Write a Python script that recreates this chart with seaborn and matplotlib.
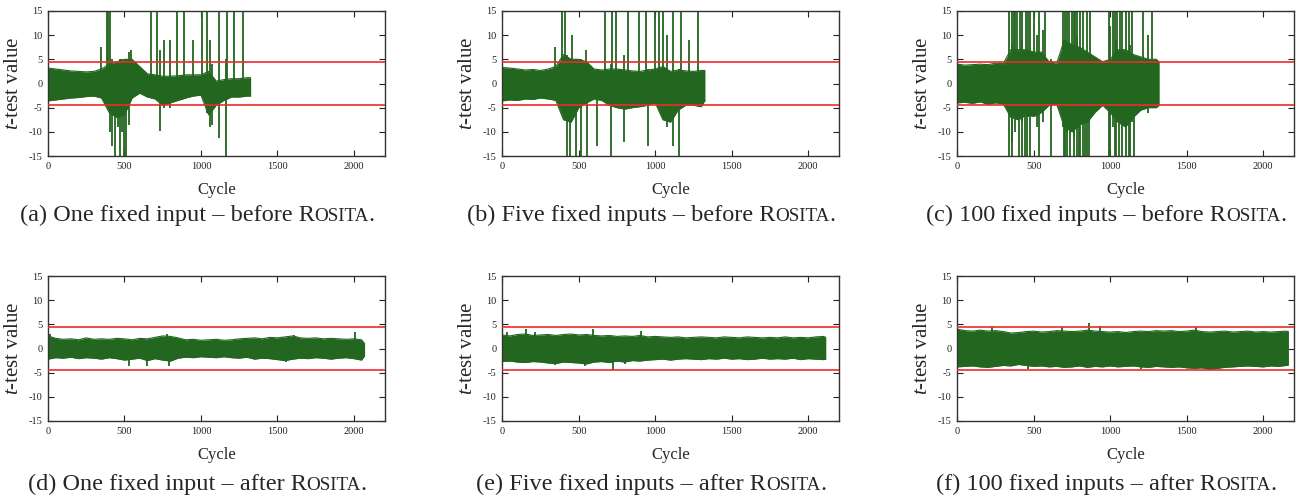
import matplotlib
matplotlib.use("Agg")
import matplotlib.pyplot as plt
import matplotlib.transforms as mtransforms
import numpy as np
import pandas as pd
import seaborn as sns

GREEN = "#22661f"
RED = "#ee2a2a"
THRESHOLD = 4.5

# ------------------------------------------------------------
# band envelopes (upper / lower edge of the dense trace), read every 50 cycles
# ------------------------------------------------------------
CYCLES_A = list(range(0, 1301, 50)) + [1325]
HI_A = [3.2, 3.0, 2.8, 2.6, 2.5, 2.4, 2.5, 3.0, 4.0, 4.5, 5.0, 5.0, 3.5, 2.0,
        1.8, 1.5, 1.5, 1.6, 1.8, 1.8, 1.8, 2.5, 0.5, 0.8, 1.0, 1.0, 1.2, 1.2]
LO_A = [-3.6, -3.4, -3.2, -3.0, -2.9, -2.7, -2.6, -3.0, -6.0, -7.0, -6.5, -3.0, -2.0, -2.8,
        -3.2, -4.5, -4.0, -3.5, -3.0, -2.6, -2.4, -6.5, -4.5, -3.5, -2.8, -2.8, -2.6, -2.6]
SPIKES_A = [(347, 0, 7.5), (385, -4, 15), (395, -5, 15), (405, -10, 15), (420, -13, 5),
            (440, -15, 3), (455, -9, 4), (470, -15, 5), (485, -10, 5), (500, -15, 4),
            (512, -15, 5), (530, -8.5, 6.5), (545, -3, 7), (676, -1, 15), (713, -3, 15),
            (735, -9.8, 7), (760, -5, 9), (800, -5, 9), (844, -3, 15), (888, -3, 15),
            (950, -2, 9), (1008, -2, 15), (1041, -6, 15), (1060, -9, 9), (1075, -8.5, 4),
            (1121, -11.3, 15), (1165, -15, 5), (1171, -3, 15), (1219, -2, 15), (1276, -2, 15)]

CYCLES_B = list(range(0, 1301, 50)) + [1325]
HI_B = [3.3, 3.2, 3.0, 2.8, 2.9, 2.7, 3.0, 3.5, 6.0, 5.0, 5.0, 4.5, 3.0, 2.8,
        3.0, 3.0, 2.8, 2.6, 2.5, 2.8, 3.0, 3.5, 2.5, 2.8, 2.6, 2.5, 2.7, 2.7]
LO_B = [-3.6, -3.4, -3.5, -3.2, -3.3, -3.0, -3.2, -3.5, -7.5, -8.0, -5.0, -4.0, -3.2, -3.5,
        -4.5, -5.0, -5.3, -5.0, -4.8, -4.5, -4.0, -7.5, -8.0, -5.5, -4.5, -4.5, -4.8, -3.5]
SPIKES_B = [(345, 0, 7.5), (393, -3, 15), (410, -5, 15), (421, -15, 6), (443, -15, 5),
            (458, -6, 10), (480, -15, 5), (513, -15, 5), (546, -3, 7), (557, -15, 4),
            (618, -13, 3), (670, -3, 15), (710, -15, 4), (714, -3, 15), (742, -5, 15),
            (793, -12, 6), (825, -3, 15), (895, -2, 15), (939, -3, 15), (950, -13, 3),
            (1000, -3, 15), (1026, -5, 15), (1052, -6, 15), (1080, -9, 10), (1113, -13, 15),
            (1157, -15, 3), (1168, -3, 15), (1220, -3, 9), (1277, -3, 15)]

CYCLES_C = list(range(0, 1301, 50)) + [1320]
HI_C = [4.0, 3.8, 3.9, 4.0, 3.9, 4.2, 4.1, 7.0, 7.0, 7.0, 6.5, 6.5, 4.5, 4.2,
        9.0, 8.0, 7.5, 6.5, 5.5, 4.5, 5.0, 7.0, 7.0, 6.0, 5.5, 5.0, 5.0, 4.5]
LO_C = [-4.0, -3.9, -4.1, -3.8, -4.3, -4.0, -4.2, -7.0, -7.5, -6.5, -6.8, -6.0, -4.5, -4.3,
        -9.0, -10.0, -8.5, -8.0, -6.0, -4.5, -6.0, -8.0, -9.0, -7.0, -5.5, -5.0, -5.0, -4.5]
SPIKES_C = [(337, -5, 15), (341, -15, 5), (355, -12, 15), (360, -15, 8), (370, -5, 15),
            (380, -10, 15), (391, -5, 15), (402, -15, 5), (413, -5, 15), (420, -15, 9),
            (425, -8, 15), (441, -15, 5), (446, -5, 15), (455, -15, 6), (460, -7, 15),
            (478, -15, 15), (500, -5, 15), (520, -9, 10), (533, -15, 15), (560, -8, 11),
            (576, -5, 15), (615, -15, 5), (690, -9, 15), (700, -15, 9), (707, -15, 15),
            (715, -10, 15), (720, -15, 8), (728, -5, 15), (739, -15, 5), (750, -5, 15),
            (760, -11, 15), (765, -15, 5), (772, -5, 15), (780, -15, 10), (785, -8, 15),
            (795, -15, 7), (804, -15, 15), (820, -15, 15), (837, -15, 5), (850, -15, 15),
            (859, -15, 5), (870, -5, 15), (989, -15, 15), (1000, -15, 12), (1020, -9, 15),
            (1033, -15, 15), (1040, -15, 9), (1045, -8, 15), (1054, -15, 5), (1065, -5, 15),
            (1080, -15, 15), (1100, -15, 15), (1120, -15, 15), (1130, -15, 8), (1140, -8, 15),
            (1152, -15, 5), (1217, -5, 15), (1250, -6, 10), (1272, -5, 15)]

CYCLES_D = list(range(0, 2051, 50)) + [2070]
HI_D = [2.6, 2.1, 1.9, 2.0, 1.8, 2.2, 1.9, 2.0, 1.9, 2.1, 2.0, 1.8, 2.1, 2.0, 2.3,
        2.6, 2.5, 2.2, 1.8, 1.9, 1.7, 1.8, 1.9, 1.7, 1.8, 2.0, 2.1, 2.2, 2.0, 2.3,
        2.2, 2.4, 2.6, 2.2, 2.1, 2.2, 2.0, 2.1, 2.0, 1.9, 2.0, 1.8, 1.0]
LO_D = [-2.2, -1.9, -2.0, -1.8, -2.1, -1.9, -2.0, -2.2, -1.9, -2.1, -2.4, -2.2, -2.0, -2.5, -2.1,
        -2.4, -2.6, -2.0, -1.8, -1.9, -1.7, -1.8, -1.9, -1.7, -1.9, -2.0, -1.8, -2.2, -2.0, -2.1,
        -2.3, -2.5, -2.2, -2.0, -2.1, -1.9, -2.0, -2.2, -2.0, -1.9, -2.1, -2.4, -1.5]
SPIKES_D = [(10, 0, 3.0), (528, -3.7, 0), (648, -3.6, 0), (780, 0, 2.9), (790, -3.7, 0),
            (1553, -2.8, 0), (1607, 0, 2.8), (2004, 0, 3.5)]

CYCLES_E = list(range(0, 2101, 50)) + [2115]
HI_E = [2.8, 2.6, 2.9, 3.0, 2.7, 2.8, 2.9, 2.7, 2.9, 3.0, 2.8, 2.9, 2.7, 2.6, 2.7,
        2.5, 2.6, 2.5, 2.7, 2.4, 2.5, 2.4, 2.3, 2.4, 2.2, 2.3, 2.4, 2.3, 2.2, 2.4,
        2.3, 2.2, 2.4, 2.3, 2.2, 2.3, 2.2, 2.4, 2.2, 2.3, 2.2, 2.4, 2.5, 2.3]
LO_E = [-2.7, -2.6, -2.8, -2.9, -2.7, -2.8, -3.0, -3.1, -2.8, -2.9, -3.0, -3.2, -2.8, -2.7, -2.9,
        -2.6, -2.8, -2.5, -2.6, -2.4, -2.3, -2.2, -2.4, -2.2, -2.1, -2.2, -2.3, -2.1, -2.2, -2.0,
        -2.2, -2.1, -2.3, -2.2, -2.0, -2.2, -2.1, -2.2, -2.0, -2.3, -2.1, -2.2, -2.3, -2.2]
SPIKES_E = [(28, 0, 3.5), (152, 0, 4.0), (217, 0, 3.5), (343, -3.4, 0), (541, -3.6, 0),
            (593, 0, 4.0), (724, -4.5, 0), (800, -3.3, 0), (909, 0, 3.6)]

CYCLES_F = list(range(0, 2151, 50)) + [2165]
HI_F = [4.0, 3.7, 3.6, 3.8, 3.6, 3.7, 3.5, 3.2, 3.3, 3.5, 3.6, 3.4, 3.5, 3.7, 3.6,
        3.5, 3.6, 3.8, 3.6, 3.5, 3.4, 3.5, 3.3, 3.5, 3.6, 3.5, 3.7, 3.6, 3.7, 3.5,
        3.6, 3.8, 3.5, 3.4, 3.5, 3.6, 3.4, 3.5, 3.6, 3.4, 3.5, 3.4, 3.5, 3.6, 3.5]
LO_F = [-3.8, -3.7, -3.6, -3.8, -3.9, -3.7, -3.5, -3.6, -3.3, -3.5, -3.7, -3.6, -3.8, -3.7, -3.9,
        -3.8, -3.6, -3.9, -3.7, -3.8, -3.6, -3.8, -3.7, -3.6, -3.8, -3.9, -3.7, -3.8, -3.9, -3.8,
        -4.0, -4.1, -4.0, -4.3, -4.1, -3.9, -3.8, -3.7, -3.6, -3.7, -3.8, -3.6, -3.7, -3.5, -3.4]
SPIKES_F = [(224, 0, 4.4), (460, -4.2, 0), (684, 0, 4.5), (859, 0, 5.2), (930, 0, 4.6),
            (1200, -4.3, 0), (1561, 0, 4.4), (1648, -4.5, 0)]

CAPTIONS = ["(a) One fixed input \u2013 before ", "(b) Five fixed inputs \u2013 before ",
            "(c) 100 fixed inputs \u2013 before ", "(d) One fixed input \u2013 after ",
            "(e) Five fixed inputs \u2013 after ", "(f) 100 fixed inputs \u2013 after "]

PANELS = [(CYCLES_A, HI_A, LO_A, SPIKES_A), (CYCLES_B, HI_B, LO_B, SPIKES_B),
          (CYCLES_C, HI_C, LO_C, SPIKES_C), (CYCLES_D, HI_D, LO_D, SPIKES_D),
          (CYCLES_E, HI_E, LO_E, SPIKES_E), (CYCLES_F, HI_F, LO_F, SPIKES_F)]

sns.set_style("ticks")
plt.rcParams["font.family"] = ["Liberation Serif", "DejaVu Serif"]
plt.rcParams["mathtext.fontset"] = "custom"
plt.rcParams["mathtext.rm"] = "Liberation Serif"
plt.rcParams["mathtext.it"] = "Liberation Serif:italic"

W, H = 1315, 504
fig = plt.figure(figsize=(W / 100, H / 100), dpi=100)

LEFTS = [48, 502.3, 957.3]
AX_W = 336.5
ROW_TOPS = [11, 276]
AX_H = 145
CAPTION_Y = [221, 490]   # baseline, pixels from top


def draw_trace(ax, cycles, hi, lo, spikes):
    df = pd.DataFrame({"cycle": cycles, "hi": hi, "lo": lo})
    ax.fill_between(df["cycle"], df["lo"], df["hi"], color=GREEN, lw=0, zorder=2)
    for col in ["hi", "lo"]:
        sns.lineplot(data=df, x="cycle", y=col, ax=ax, color=GREEN, lw=0.8,
                     estimator=None, zorder=2)
    sp = pd.DataFrame(spikes, columns=["cycle", "lo", "hi"])
    ax.vlines(sp["cycle"], sp["lo"], sp["hi"], color=GREEN, lw=1.3, zorder=2)


def caption(text, cx, y_base, size=17.5):
    renderer = fig.canvas.get_renderer()
    ident = mtransforms.IdentityTransform()
    parts = [(text + "R", size), ("OSITA", size * 0.78), (".", size)]
    objs = [fig.text(0, H - y_base, s, fontsize=fs, transform=ident, ha="left", va="baseline")
            for s, fs in parts]
    widths = [o.get_window_extent(renderer).width for o in objs]
    x = cx - sum(widths) / 2
    for o, w in zip(objs, widths):
        o.set_x(x)
        x += w


for i, (cycles, hi, lo, spikes) in enumerate(PANELS):
    row, col = divmod(i, 3)
    left = LEFTS[col]
    top = ROW_TOPS[row]
    ax = fig.add_axes([left / W, 1 - (top + AX_H) / H, AX_W / W, AX_H / H])
    draw_trace(ax, cycles, hi, lo, spikes)
    ax.axhline(THRESHOLD, color=RED, lw=1.2, zorder=3)
    ax.axhline(-THRESHOLD, color=RED, lw=1.2, zorder=3)
    ax.set_xlim(0, 2200)
    ax.set_ylim(-15, 15)
    ax.set_xticks([0, 500, 1000, 1500, 2000])
    ax.set_yticks([-15, -10, -5, 0, 5, 10, 15])
    ax.set_yticklabels(["-15", "-10", "-5", "0", "5", "10", "15"])
    ax.tick_params(direction="in", top=True, right=True, length=4, width=0.8,
                   labelsize=7.5, pad=4, colors="#222222")
    for s in ax.spines.values():
        s.set_visible(True)
        s.set_linewidth(1.0)
        s.set_color("#333333")
    ax.set_xlabel("Cycle", fontsize=12, labelpad=8)
    ax.set_ylabel("$t$-test value", fontsize=15, labelpad=4)
    caption(CAPTIONS[i], (left - 38 + left + AX_W) / 2, CAPTION_Y[row])

fig.savefig("out.png", dpi=100)
